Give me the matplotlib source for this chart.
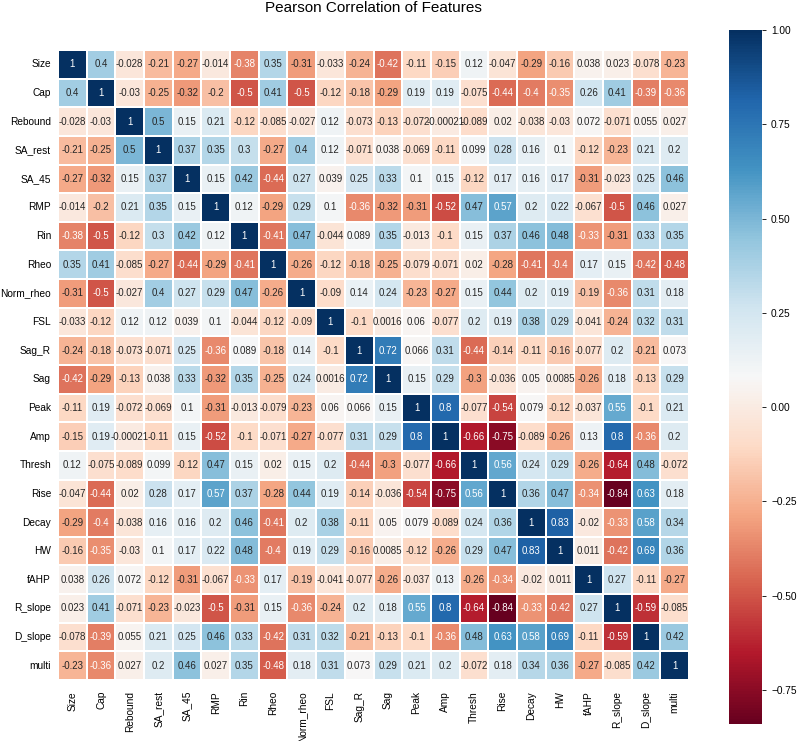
import numpy as np
import pandas as pd
import matplotlib
matplotlib.use('Agg')
import matplotlib.pyplot as plt
import seaborn as sns

# Feature names (same order on both axes)
features = ['Size', 'Cap', 'Rebound', 'SA_rest', 'SA_45', 'RMP', 'Rin', 'Rheo',
            'Norm_rheo', 'FSL', 'Sag_R', 'Sag', 'Peak', 'Amp', 'Thresh', 'Rise',
            'Decay', 'HW', 'fAHP', 'R_slope', 'D_slope', 'multi']

# Pearson r, one row per feature
r_size = [1, 0.4, -0.028, -0.21, -0.27, -0.014, -0.38, 0.35, -0.31, -0.033, -0.24,
          -0.42, -0.11, -0.15, 0.12, -0.047, -0.29, -0.16, 0.038, 0.023, -0.078, -0.23]
r_cap = [0.4, 1, -0.03, -0.25, -0.32, -0.2, -0.5, 0.41, -0.5, -0.12, -0.18,
         -0.29, 0.19, 0.19, -0.075, -0.44, -0.4, -0.35, 0.26, 0.41, -0.39, -0.36]
r_rebound = [-0.028, -0.03, 1, 0.5, 0.15, 0.21, -0.12, -0.085, -0.027, 0.12, -0.073,
             -0.13, -0.072, -0.00021, -0.089, 0.02, -0.038, -0.03, 0.072, -0.071, 0.055, 0.027]
r_sa_rest = [-0.21, -0.25, 0.5, 1, 0.37, 0.35, 0.3, -0.27, 0.4, 0.12, -0.071,
             0.038, -0.069, -0.11, 0.099, 0.28, 0.16, 0.1, -0.12, -0.23, 0.21, 0.2]
r_sa_45 = [-0.27, -0.32, 0.15, 0.37, 1, 0.15, 0.42, -0.44, 0.27, 0.039, 0.25,
           0.33, 0.1, 0.15, -0.12, 0.17, 0.16, 0.17, -0.31, -0.023, 0.25, 0.46]
r_rmp = [-0.014, -0.2, 0.21, 0.35, 0.15, 1, 0.12, -0.29, 0.29, 0.1, -0.36,
         -0.32, -0.31, -0.52, 0.47, 0.57, 0.2, 0.22, -0.067, -0.5, 0.46, 0.027]
r_rin = [-0.38, -0.5, -0.12, 0.3, 0.42, 0.12, 1, -0.41, 0.47, -0.044, 0.089,
         0.35, -0.013, -0.1, 0.15, 0.37, 0.46, 0.48, -0.33, -0.31, 0.33, 0.35]
r_rheo = [0.35, 0.41, -0.085, -0.27, -0.44, -0.29, -0.41, 1, -0.26, -0.12, -0.18,
          -0.25, -0.079, -0.071, 0.02, -0.28, -0.41, -0.4, 0.17, 0.15, -0.42, -0.48]
r_norm_rheo = [-0.31, -0.5, -0.027, 0.4, 0.27, 0.29, 0.47, -0.26, 1, -0.09, 0.14,
               0.24, -0.23, -0.27, 0.15, 0.44, 0.2, 0.19, -0.19, -0.36, 0.31, 0.18]
r_fsl = [-0.033, -0.12, 0.12, 0.12, 0.039, 0.1, -0.044, -0.12, -0.09, 1, -0.1,
         0.0016, 0.06, -0.077, 0.2, 0.19, 0.38, 0.29, -0.041, -0.24, 0.32, 0.31]
r_sag_r = [-0.24, -0.18, -0.073, -0.071, 0.25, -0.36, 0.089, -0.18, 0.14, -0.1, 1,
           0.72, 0.066, 0.31, -0.44, -0.14, -0.11, -0.16, -0.077, 0.2, -0.21, 0.073]
r_sag = [-0.42, -0.29, -0.13, 0.038, 0.33, -0.32, 0.35, -0.25, 0.24, 0.0016, 0.72,
         1, 0.15, 0.29, -0.3, -0.036, 0.05, 0.0085, -0.26, 0.18, -0.13, 0.29]
r_peak = [-0.11, 0.19, -0.072, -0.069, 0.1, -0.31, -0.013, -0.079, -0.23, 0.06, 0.066,
          0.15, 1, 0.8, -0.077, -0.54, 0.079, -0.12, -0.037, 0.55, -0.1, 0.21]
r_amp = [-0.15, 0.19, -0.00021, -0.11, 0.15, -0.52, -0.1, -0.071, -0.27, -0.077, 0.31,
         0.29, 0.8, 1, -0.66, -0.75, -0.089, -0.26, 0.13, 0.8, -0.36, 0.2]
r_thresh = [0.12, -0.075, -0.089, 0.099, -0.12, 0.47, 0.15, 0.02, 0.15, 0.2, -0.44,
            -0.3, -0.077, -0.66, 1, 0.56, 0.24, 0.29, -0.26, -0.64, 0.48, -0.072]
r_rise = [-0.047, -0.44, 0.02, 0.28, 0.17, 0.57, 0.37, -0.28, 0.44, 0.19, -0.14,
          -0.036, -0.54, -0.75, 0.56, 1, 0.36, 0.47, -0.34, -0.84, 0.63, 0.18]
r_decay = [-0.29, -0.4, -0.038, 0.16, 0.16, 0.2, 0.46, -0.41, 0.2, 0.38, -0.11,
           0.05, 0.079, -0.089, 0.24, 0.36, 1, 0.83, -0.02, -0.33, 0.58, 0.34]
r_hw = [-0.16, -0.35, -0.03, 0.1, 0.17, 0.22, 0.48, -0.4, 0.19, 0.29, -0.16,
        0.0085, -0.12, -0.26, 0.29, 0.47, 0.83, 1, 0.011, -0.42, 0.69, 0.36]
r_fahp = [0.038, 0.26, 0.072, -0.12, -0.31, -0.067, -0.33, 0.17, -0.19, -0.041, -0.077,
          -0.26, -0.037, 0.13, -0.26, -0.34, -0.02, 0.011, 1, 0.27, -0.11, -0.27]
r_r_slope = [0.023, 0.41, -0.071, -0.23, -0.023, -0.5, -0.31, 0.15, -0.36, -0.24, 0.2,
             0.18, 0.55, 0.8, -0.64, -0.84, -0.33, -0.42, 0.27, 1, -0.59, -0.085]
r_d_slope = [-0.078, -0.39, 0.055, 0.21, 0.25, 0.46, 0.33, -0.42, 0.31, 0.32, -0.21,
             -0.13, -0.1, -0.36, 0.48, 0.63, 0.58, 0.69, -0.11, -0.59, 1, 0.42]
r_multi = [-0.23, -0.36, 0.027, 0.2, 0.46, 0.027, 0.35, -0.48, 0.18, 0.31, 0.073,
           0.29, 0.21, 0.2, -0.072, 0.18, 0.34, 0.36, -0.27, -0.085, 0.42, 1]

rows = [r_size, r_cap, r_rebound, r_sa_rest, r_sa_45, r_rmp, r_rin, r_rheo,
        r_norm_rheo, r_fsl, r_sag_r, r_sag, r_peak, r_amp, r_thresh, r_rise,
        r_decay, r_hw, r_fahp, r_r_slope, r_d_slope, r_multi]
corr = pd.DataFrame(rows, index=features, columns=features)

plt.rcParams['font.family'] = ['Liberation Sans', 'DejaVu Sans']

fig = plt.figure(figsize=(7.97, 7.41), dpi=100)
ax = fig.add_axes([58 / 797, 61 / 741, 631 / 797, 630 / 741])
cax = fig.add_axes([729 / 797, 17 / 741, 33 / 797, 694 / 741])

sns.heatmap(corr, ax=ax, cbar_ax=cax, cmap='RdBu', annot=True, fmt='.2g',
            annot_kws={'fontsize': 7}, linewidths=1.2, linecolor='white')

ax.set_xticklabels(features, rotation=90, fontsize=7.3)
ax.set_yticklabels(features, rotation=0, fontsize=7.3)
ax.tick_params(length=0, pad=5)
ax.tick_params(axis='x', pad=8)

cax.tick_params(labelsize=7.3, length=3, width=0.6)
cax.set_yticks([-0.75, -0.5, -0.25, 0.0, 0.25, 0.5, 0.75, 1.0])

fig.text(373 / 797, 1 - 8 / 741, 'Pearson Correlation of Features',
         ha='center', va='center', fontsize=11)

fig.savefig('out.png', dpi=100)
